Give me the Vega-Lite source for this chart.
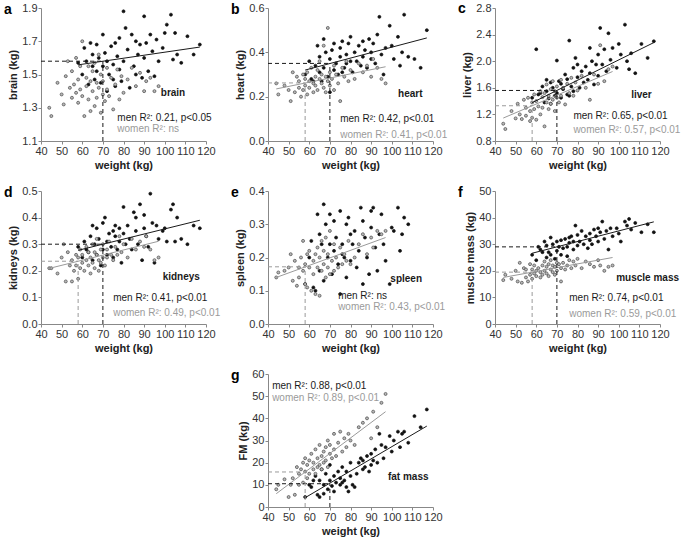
{
  "$schema": "https://vega.github.io/schema/vega-lite/v6.json",
  "padding": {"left": 3, "top": 2, "right": 2, "bottom": 1},
  "background": "white",
  "config": {
    "font": "Liberation Sans",
    "view": {"stroke": null},
    "axis": {
      "grid": false,
      "domainColor": "#888888",
      "tickColor": "#888888",
      "tickSize": 3,
      "labelColor": "#333333",
      "labelFontSize": 11,
      "labelFlush": false,
      "labelOverlap": false,
      "labelPadding": 1,
      "titleFontSize": 11,
      "titleFontWeight": "bold",
      "titleColor": "#222222",
      "titlePadding": 3
    }
  },
  "datasets": {
    "people": [
      {"sex":"M","w":58,"brain":1.57,"heart":0.30,"liver":1.45,"kidneys":0.29,"spleen":0.12,"muscle":26,"fm":4.5},
      {"sex":"M","w":60,"brain":1.50,"heart":0.36,"liver":2.18,"kidneys":0.25,"spleen":0.20,"muscle":24,"fm":10},
      {"sex":"M","w":61,"brain":1.66,"heart":0.28,"liver":1.50,"kidneys":0.31,"spleen":0.25,"muscle":29,"fm":9},
      {"sex":"M","w":63,"brain":1.44,"heart":0.34,"liver":1.62,"kidneys":0.27,"spleen":0.10,"muscle":27,"fm":14},
      {"sex":"M","w":64,"brain":1.69,"heart":0.43,"liver":1.38,"kidneys":0.33,"spleen":0.33,"muscle":31,"fm":5.5},
      {"sex":"M","w":65,"brain":1.55,"heart":0.31,"liver":1.55,"kidneys":0.37,"spleen":0.27,"muscle":25,"fm":12},
      {"sex":"M","w":65,"brain":1.62,"heart":0.38,"liver":1.72,"kidneys":0.24,"spleen":0.16,"muscle":29.5,"fm":4.5},
      {"sex":"M","w":66,"brain":1.47,"heart":0.27,"liver":1.44,"kidneys":0.30,"spleen":0.24,"muscle":27,"fm":17},
      {"sex":"M","w":67,"brain":1.68,"heart":0.46,"liver":1.68,"kidneys":0.36,"spleen":0.36,"muscle":32.5,"fm":10},
      {"sex":"M","w":67,"brain":1.52,"heart":0.33,"liver":1.36,"kidneys":0.26,"spleen":0.13,"muscle":26,"fm":6},
      {"sex":"M","w":68,"brain":1.60,"heart":0.40,"liver":1.60,"kidneys":0.32,"spleen":0.30,"muscle":30,"fm":15},
      {"sex":"M","w":69,"brain":1.45,"heart":0.29,"liver":1.48,"kidneys":0.22,"spleen":0.20,"muscle":24.5,"fm":8},
      {"sex":"M","w":70,"brain":1.74,"heart":0.37,"liver":2.01,"kidneys":0.38,"spleen":0.24,"muscle":31,"fm":12},
      {"sex":"M","w":70,"brain":1.55,"heart":0.22,"liver":1.52,"kidneys":0.28,"spleen":0.33,"muscle":27.5,"fm":19},
      {"sex":"M","w":71,"brain":1.63,"heart":0.41,"liver":1.70,"kidneys":0.40,"spleen":0.15,"muscle":29,"fm":9.5},
      {"sex":"M","w":72,"brain":1.40,"heart":0.32,"liver":1.45,"kidneys":0.31,"spleen":0.31,"muscle":26,"fm":14},
      {"sex":"M","w":72,"brain":1.58,"heart":0.44,"liver":1.66,"kidneys":0.26,"spleen":0.22,"muscle":31.5,"fm":7},
      {"sex":"M","w":73,"brain":1.50,"heart":0.35,"liver":1.58,"kidneys":0.34,"spleen":0.26,"muscle":28.5,"fm":11},
      {"sex":"M","w":74,"brain":1.67,"heart":0.30,"liver":1.80,"kidneys":0.29,"spleen":0.18,"muscle":32,"fm":16},
      {"sex":"M","w":75,"brain":1.56,"heart":0.42,"liver":1.50,"kidneys":0.35,"spleen":0.34,"muscle":29,"fm":10},
      {"sex":"M","w":75,"brain":1.47,"heart":0.38,"liver":1.73,"kidneys":0.25,"spleen":0.09,"muscle":25.5,"fm":13},
      {"sex":"M","w":76,"brain":1.69,"heart":0.45,"liver":2.31,"kidneys":0.33,"spleen":0.24,"muscle":30.5,"fm":18},
      {"sex":"M","w":77,"brain":1.61,"heart":0.33,"liver":1.62,"kidneys":0.28,"spleen":0.20,"muscle":33,"fm":12},
      {"sex":"M","w":78,"brain":1.53,"heart":0.39,"liver":1.90,"kidneys":0.36,"spleen":0.30,"muscle":28,"fm":9},
      {"sex":"M","w":78,"brain":1.72,"heart":0.35,"liver":1.55,"kidneys":0.31,"spleen":0.14,"muscle":31,"fm":16},
      {"sex":"M","w":79,"brain":1.46,"heart":0.44,"liver":2.05,"kidneys":0.23,"spleen":0.32,"muscle":37,"fm":7},
      {"sex":"M","w":80,"brain":1.88,"heart":0.47,"liver":1.76,"kidneys":0.44,"spleen":0.27,"muscle":29.5,"fm":20},
      {"sex":"M","w":80,"brain":1.58,"heart":0.36,"liver":1.95,"kidneys":0.34,"spleen":0.19,"muscle":33.5,"fm":14},
      {"sex":"M","w":81,"brain":1.78,"heart":0.31,"liver":1.60,"kidneys":0.30,"spleen":0.24,"muscle":31,"fm":10},
      {"sex":"M","w":82,"brain":1.65,"heart":0.40,"liver":1.85,"kidneys":0.37,"spleen":0.28,"muscle":35,"fm":9},
      {"sex":"M","w":83,"brain":1.42,"heart":0.36,"liver":1.68,"kidneys":0.32,"spleen":0.17,"muscle":30,"fm":15},
      {"sex":"M","w":84,"brain":1.74,"heart":0.43,"liver":1.92,"kidneys":0.28,"spleen":0.22,"muscle":33,"fm":20},
      {"sex":"M","w":85,"brain":1.55,"heart":0.34,"liver":1.72,"kidneys":0.42,"spleen":0.35,"muscle":28.5,"fm":22},
      {"sex":"M","w":86,"brain":1.70,"heart":0.45,"liver":2.20,"kidneys":0.35,"spleen":0.31,"muscle":34,"fm":17},
      {"sex":"M","w":86,"brain":1.50,"heart":0.38,"liver":1.82,"kidneys":0.40,"spleen":0.12,"muscle":31.5,"fm":21},
      {"sex":"M","w":87,"brain":1.62,"heart":0.41,"liver":2.00,"kidneys":0.30,"spleen":0.26,"muscle":30,"fm":18},
      {"sex":"M","w":88,"brain":1.68,"heart":0.33,"liver":1.65,"kidneys":0.45,"spleen":0.20,"muscle":35.5,"fm":23},
      {"sex":"M","w":89,"brain":1.48,"heart":0.46,"liver":1.95,"kidneys":0.24,"spleen":0.15,"muscle":33,"fm":16},
      {"sex":"M","w":90,"brain":1.85,"heart":0.40,"liver":2.10,"kidneys":0.41,"spleen":0.34,"muscle":36,"fm":24},
      {"sex":"M","w":90,"brain":1.60,"heart":0.37,"liver":1.78,"kidneys":0.36,"spleen":0.29,"muscle":31,"fm":19},
      {"sex":"M","w":91,"brain":1.69,"heart":0.44,"liver":2.50,"kidneys":0.33,"spleen":0.35,"muscle":34.5,"fm":21},
      {"sex":"M","w":92,"brain":1.52,"heart":0.35,"liver":1.95,"kidneys":0.29,"spleen":0.23,"muscle":38.5,"fm":26},
      {"sex":"M","w":93,"brain":1.74,"heart":0.48,"liver":2.18,"kidneys":0.49,"spleen":0.16,"muscle":32,"fm":20},
      {"sex":"M","w":94,"brain":1.64,"heart":0.56,"liver":1.85,"kidneys":0.38,"spleen":0.27,"muscle":35,"fm":33},
      {"sex":"M","w":95,"brain":1.49,"heart":0.39,"liver":2.42,"kidneys":0.23,"spleen":0.33,"muscle":28,"fm":28},
      {"sex":"M","w":96,"brain":1.71,"heart":0.30,"liver":2.02,"kidneys":0.37,"spleen":0.24,"muscle":36,"fm":22},
      {"sex":"M","w":97,"brain":1.58,"heart":0.42,"liver":2.20,"kidneys":0.32,"spleen":0.19,"muscle":33,"fm":27},
      {"sex":"M","w":99,"brain":1.66,"heart":0.52,"liver":1.90,"kidneys":0.35,"spleen":0.12,"muscle":36,"fm":32},
      {"sex":"M","w":100,"brain":1.75,"heart":0.43,"liver":2.26,"kidneys":0.36,"spleen":0.29,"muscle":34,"fm":25},
      {"sex":"M","w":101,"brain":1.80,"heart":0.37,"liver":2.10,"kidneys":0.31,"spleen":0.28,"muscle":31,"fm":30},
      {"sex":"M","w":103,"brain":1.86,"heart":0.47,"liver":2.55,"kidneys":0.43,"spleen":0.35,"muscle":38.5,"fm":34},
      {"sex":"M","w":104,"brain":1.59,"heart":0.34,"liver":2.00,"kidneys":0.45,"spleen":0.22,"muscle":37,"fm":27},
      {"sex":"M","w":105,"brain":1.75,"heart":0.40,"liver":1.88,"kidneys":0.31,"spleen":0.27,"muscle":39.5,"fm":33},
      {"sex":"M","w":106,"brain":1.62,"heart":0.57,"liver":2.12,"kidneys":0.40,"spleen":0.32,"muscle":35.5,"fm":34},
      {"sex":"M","w":108,"brain":1.57,"heart":0.38,"liver":1.82,"kidneys":0.32,"spleen":0.30,"muscle":38,"fm":29},
      {"sex":"M","w":111,"brain":1.73,"heart":0.37,"liver":2.26,"kidneys":0.30,"spleen":null,"muscle":34.5,"fm":41},
      {"sex":"M","w":114,"brain":1.62,"heart":0.33,"liver":2.05,"kidneys":0.37,"spleen":null,"muscle":37.5,"fm":36},
      {"sex":"M","w":117,"brain":1.68,"heart":0.50,"liver":2.30,"kidneys":0.36,"spleen":null,"muscle":34.5,"fm":44},
      {"sex":"M","w":62,"brain":1.58,"heart":0.27,"liver":1.52,"kidneys":0.28,"spleen":0.11,"muscle":28,"fm":12},
      {"sex":"M","w":76,"brain":1.43,"heart":0.31,"liver":1.48,"kidneys":0.37,"spleen":0.21,"muscle":32.5,"fm":11},
      {"sex":"W","w":44,"brain":1.30,"heart":0.26,"liver":1.06,"kidneys":0.21,"spleen":0.14,"muscle":16.5,"fm":8},
      {"sex":"W","w":45,"brain":1.25,"heart":0.21,"liver":0.98,"kidneys":0.21,"spleen":0.155,"muscle":18.5,"fm":10},
      {"sex":"W","w":48,"brain":1.45,"heart":0.25,"liver":1.25,"kidneys":0.19,"spleen":0.16,"muscle":17,"fm":12.5},
      {"sex":"W","w":50,"brain":1.38,"heart":0.23,"liver":1.14,"kidneys":0.25,"spleen":0.17,"muscle":20,"fm":4.5},
      {"sex":"W","w":51,"brain":1.32,"heart":0.18,"liver":1.36,"kidneys":0.30,"spleen":0.21,"muscle":16,"fm":10},
      {"sex":"W","w":52,"brain":1.49,"heart":0.31,"liver":1.20,"kidneys":0.16,"spleen":0.13,"muscle":23,"fm":13},
      {"sex":"W","w":53,"brain":1.58,"heart":0.22,"liver":1.13,"kidneys":0.27,"spleen":0.19,"muscle":15.5,"fm":5.5},
      {"sex":"W","w":54,"brain":1.42,"heart":0.29,"liver":1.42,"kidneys":0.22,"spleen":0.115,"muscle":21,"fm":18},
      {"sex":"W","w":55,"brain":1.36,"heart":0.24,"liver":1.30,"kidneys":0.16,"spleen":0.17,"muscle":17.5,"fm":15},
      {"sex":"W","w":55,"brain":1.52,"heart":0.27,"liver":1.18,"kidneys":0.24,"spleen":0.14,"muscle":20.5,"fm":10},
      {"sex":"W","w":56,"brain":1.44,"heart":0.20,"liver":1.45,"kidneys":0.20,"spleen":0.20,"muscle":16,"fm":17},
      {"sex":"W","w":57,"brain":1.39,"heart":0.30,"liver":1.25,"kidneys":0.26,"spleen":0.25,"muscle":22.5,"fm":11},
      {"sex":"W","w":57,"brain":1.60,"heart":0.23,"liver":1.10,"kidneys":0.22,"spleen":0.16,"muscle":18.5,"fm":20},
      {"sex":"W","w":58,"brain":1.47,"heart":0.28,"liver":1.38,"kidneys":0.17,"spleen":0.12,"muscle":20.5,"fm":16},
      {"sex":"W","w":58,"brain":1.33,"heart":0.25,"liver":1.15,"kidneys":0.25,"spleen":0.18,"muscle":17,"fm":22},
      {"sex":"W","w":59,"brain":1.55,"heart":0.31,"liver":1.50,"kidneys":0.21,"spleen":0.21,"muscle":19,"fm":13},
      {"sex":"W","w":59,"brain":1.41,"heart":0.21,"liver":1.28,"kidneys":0.28,"spleen":0.11,"muscle":22,"fm":19},
      {"sex":"W","w":60,"brain":1.70,"heart":0.27,"liver":1.40,"kidneys":0.23,"spleen":0.17,"muscle":18,"fm":21},
      {"sex":"W","w":60,"brain":1.37,"heart":0.24,"liver":1.12,"kidneys":0.26,"spleen":0.22,"muscle":20,"fm":15},
      {"sex":"W","w":61,"brain":1.25,"heart":0.33,"liver":1.32,"kidneys":0.20,"spleen":0.10,"muscle":21,"fm":24},
      {"sex":"W","w":62,"brain":1.48,"heart":0.26,"liver":1.55,"kidneys":0.29,"spleen":0.19,"muscle":17.5,"fm":17},
      {"sex":"W","w":62,"brain":1.43,"heart":0.22,"liver":1.20,"kidneys":0.24,"spleen":0.15,"muscle":19.5,"fm":20},
      {"sex":"W","w":63,"brain":1.35,"heart":0.29,"liver":1.46,"kidneys":0.22,"spleen":0.21,"muscle":22,"fm":26},
      {"sex":"W","w":63,"brain":1.55,"heart":0.25,"liver":1.30,"kidneys":0.27,"spleen":0.09,"muscle":18.5,"fm":15},
      {"sex":"W","w":64,"brain":1.28,"heart":0.32,"liver":1.02,"kidneys":0.25,"spleen":0.17,"muscle":20,"fm":22},
      {"sex":"W","w":64,"brain":1.46,"heart":0.23,"liver":1.52,"kidneys":0.19,"spleen":0.23,"muscle":23.5,"fm":18},
      {"sex":"W","w":65,"brain":1.52,"heart":0.28,"liver":1.38,"kidneys":0.30,"spleen":0.085,"muscle":19,"fm":28},
      {"sex":"W","w":65,"brain":1.40,"heart":0.36,"liver":1.65,"kidneys":0.23,"spleen":0.20,"muscle":21.5,"fm":19},
      {"sex":"W","w":66,"brain":1.31,"heart":0.26,"liver":1.28,"kidneys":0.27,"spleen":0.16,"muscle":18,"fm":23},
      {"sex":"W","w":66,"brain":1.57,"heart":0.30,"liver":1.48,"kidneys":0.21,"spleen":0.25,"muscle":22.5,"fm":17},
      {"sex":"W","w":67,"brain":1.45,"heart":0.24,"liver":1.58,"kidneys":0.26,"spleen":0.18,"muscle":20.5,"fm":25},
      {"sex":"W","w":67,"brain":1.36,"heart":0.43,"liver":1.36,"kidneys":0.32,"spleen":0.22,"muscle":24,"fm":20},
      {"sex":"W","w":68,"brain":1.62,"heart":0.29,"liver":1.70,"kidneys":0.24,"spleen":0.14,"muscle":19.5,"fm":27},
      {"sex":"W","w":68,"brain":1.42,"heart":0.22,"liver":1.42,"kidneys":0.20,"spleen":0.26,"muscle":22,"fm":21},
      {"sex":"W","w":69,"brain":1.27,"heart":0.27,"liver":1.25,"kidneys":0.28,"spleen":0.17,"muscle":18.5,"fm":30},
      {"sex":"W","w":69,"brain":1.50,"heart":0.51,"liver":1.55,"kidneys":0.23,"spleen":0.21,"muscle":21.5,"fm":18},
      {"sex":"W","w":70,"brain":1.38,"heart":0.31,"liver":1.45,"kidneys":0.25,"spleen":0.15,"muscle":20,"fm":24},
      {"sex":"W","w":70,"brain":1.46,"heart":0.25,"liver":1.62,"kidneys":0.30,"spleen":0.28,"muscle":23,"fm":28},
      {"sex":"W","w":71,"brain":1.34,"heart":0.28,"liver":1.38,"kidneys":0.22,"spleen":0.19,"muscle":22.5,"fm":22},
      {"sex":"W","w":72,"brain":1.54,"heart":0.34,"liver":1.72,"kidneys":0.28,"spleen":0.24,"muscle":16,"fm":33},
      {"sex":"W","w":72,"brain":1.41,"heart":0.23,"liver":1.48,"kidneys":0.25,"spleen":0.16,"muscle":21,"fm":26},
      {"sex":"W","w":73,"brain":1.37,"heart":0.30,"liver":1.60,"kidneys":0.31,"spleen":0.20,"muscle":23,"fm":23},
      {"sex":"W","w":74,"brain":1.48,"heart":0.26,"liver":1.35,"kidneys":0.26,"spleen":0.17,"muscle":20.5,"fm":29},
      {"sex":"W","w":75,"brain":1.29,"heart":0.18,"liver":1.66,"kidneys":0.24,"spleen":0.23,"muscle":22,"fm":34},
      {"sex":"W","w":76,"brain":1.44,"heart":0.33,"liver":1.52,"kidneys":0.29,"spleen":0.18,"muscle":24,"fm":25},
      {"sex":"W","w":77,"brain":1.53,"heart":0.29,"liver":1.75,"kidneys":0.26,"spleen":0.21,"muscle":21,"fm":31},
      {"sex":"W","w":78,"brain":1.35,"heart":0.36,"liver":1.48,"kidneys":0.33,"spleen":0.19,"muscle":23.5,"fm":27},
      {"sex":"W","w":79,"brain":1.49,"heart":0.27,"liver":1.68,"kidneys":0.27,"spleen":0.25,"muscle":22,"fm":33},
      {"sex":"W","w":80,"brain":1.39,"heart":0.32,"liver":1.56,"kidneys":0.30,"spleen":0.18,"muscle":24.5,"fm":30},
      {"sex":"W","w":82,"brain":1.47,"heart":0.28,"liver":1.78,"kidneys":0.25,"spleen":0.20,"muscle":21,"fm":28},
      {"sex":"W","w":84,"brain":1.54,"heart":0.35,"liver":1.60,"kidneys":0.32,"spleen":0.24,"muscle":23.5,"fm":36},
      {"sex":"W","w":86,"brain":1.43,"heart":0.31,"liver":1.42,"kidneys":0.28,"spleen":0.27,"muscle":22.5,"fm":38},
      {"sex":"W","w":88,"brain":1.51,"heart":0.34,"liver":1.80,"kidneys":0.31,"spleen":0.21,"muscle":21.5,"fm":40},
      {"sex":"W","w":90,"brain":1.40,"heart":0.29,"liver":1.66,"kidneys":0.29,"spleen":0.26,"muscle":24,"fm":31},
      {"sex":"W","w":91,"brain":1.46,"heart":0.37,"liver":2.24,"kidneys":0.33,"spleen":0.23,"muscle":22,"fm":43},
      {"sex":"W","w":93,"brain":1.48,"heart":0.33,"liver":1.70,"kidneys":0.28,"spleen":0.28,"muscle":20,"fm":36},
      {"sex":"W","w":95,"brain":1.40,"heart":0.28,"liver":1.88,"kidneys":0.24,"spleen":0.27,"muscle":21.5,"fm":47},
      {"sex":"W","w":97,"brain":1.43,"heart":0.26,"liver":1.92,"kidneys":0.25,"spleen":0.28,"muscle":22,"fm":51}
    ],
    "fits": [
      {"panel":"a","kind":"men","w":58,"v":1.558},{"panel":"a","kind":"men","w":117,"v":1.665},
      {"panel":"b","kind":"men","w":58,"v":0.32},{"panel":"b","kind":"men","w":117,"v":0.465},
      {"panel":"b","kind":"women","w":44,"v":0.235},{"panel":"b","kind":"women","w":97,"v":0.335},
      {"panel":"c","kind":"men","w":58,"v":1.376},{"panel":"c","kind":"men","w":117,"v":2.28},
      {"panel":"c","kind":"women","w":44,"v":1.145},{"panel":"c","kind":"women","w":97,"v":1.845},
      {"panel":"d","kind":"men","w":58,"v":0.277},{"panel":"d","kind":"men","w":117,"v":0.39},
      {"panel":"d","kind":"women","w":44,"v":0.209},{"panel":"d","kind":"women","w":97,"v":0.311},
      {"panel":"e","kind":"women","w":44,"v":0.14},{"panel":"e","kind":"women","w":97,"v":0.26},
      {"panel":"f","kind":"men","w":58,"v":26.6},{"panel":"f","kind":"men","w":117,"v":38.4},
      {"panel":"f","kind":"women","w":44,"v":17.5},{"panel":"f","kind":"women","w":97,"v":25},
      {"panel":"g","kind":"men","w":58,"v":4.2},{"panel":"g","kind":"men","w":117,"v":36.5},
      {"panel":"g","kind":"women","w":44,"v":6},{"panel":"g","kind":"women","w":97,"v":43}
    ],
    "refs": [
      {"panel":"a","kind":"men","w":40,"v":1.58,"w2":70,"v2":1.58},{"panel":"a","kind":"men","w":70,"v":1.1,"w2":70,"v2":1.58},
      {"panel":"b","kind":"men","w":40,"v":0.35,"w2":70,"v2":0.35},{"panel":"b","kind":"men","w":70,"v":0,"w2":70,"v2":0.35},
      {"panel":"b","kind":"women","w":40,"v":0.262,"w2":58,"v2":0.262},{"panel":"b","kind":"women","w":58,"v":0,"w2":58,"v2":0.262},
      {"panel":"c","kind":"men","w":40,"v":1.56,"w2":70,"v2":1.56},{"panel":"c","kind":"men","w":70,"v":0.8,"w2":70,"v2":1.56},
      {"panel":"c","kind":"women","w":40,"v":1.33,"w2":58,"v2":1.33},{"panel":"c","kind":"women","w":58,"v":0.8,"w2":58,"v2":1.33},
      {"panel":"d","kind":"men","w":40,"v":0.30,"w2":70,"v2":0.30},{"panel":"d","kind":"men","w":70,"v":0,"w2":70,"v2":0.30},
      {"panel":"d","kind":"women","w":40,"v":0.236,"w2":58,"v2":0.236},{"panel":"d","kind":"women","w":58,"v":0,"w2":58,"v2":0.236},
      {"panel":"e","kind":"women","w":40,"v":0.172,"w2":58,"v2":0.172},{"panel":"e","kind":"women","w":58,"v":0,"w2":58,"v2":0.172},
      {"panel":"f","kind":"men","w":40,"v":29,"w2":70,"v2":29},{"panel":"f","kind":"men","w":70,"v":0,"w2":70,"v2":29},
      {"panel":"f","kind":"women","w":40,"v":19.5,"w2":58,"v2":19.5},{"panel":"f","kind":"women","w":58,"v":0,"w2":58,"v2":19.5},
      {"panel":"g","kind":"men","w":40,"v":10.5,"w2":70,"v2":10.5},{"panel":"g","kind":"men","w":70,"v":0,"w2":70,"v2":10.5},
      {"panel":"g","kind":"women","w":40,"v":15.8,"w2":58,"v2":15.8},{"panel":"g","kind":"women","w":58,"v":0,"w2":58,"v2":15.8}
    ],
    "notes": [
      {"panel":"a","kind":"letter","w":22,"v":1.885,"label":"a"},
      {"panel":"a","kind":"organ","w":104,"v":1.39,"label":"brain"},
      {"panel":"a","kind":"men","w":77,"v":1.24,"label":"men R²: 0.21, p<0.05"},
      {"panel":"a","kind":"women","w":77,"v":1.17,"label":"women R²: ns"},
      {"panel":"b","kind":"letter","w":22,"v":0.592,"label":"b"},
      {"panel":"b","kind":"organ","w":109,"v":0.21,"label":"heart"},
      {"panel":"b","kind":"men","w":75,"v":0.10,"label":"men R²: 0.42, p<0.01"},
      {"panel":"b","kind":"women","w":75,"v":0.025,"label":"women R²: 0.41, p<0.01"},
      {"panel":"c","kind":"letter","w":22,"v":2.78,"label":"c"},
      {"panel":"c","kind":"organ","w":111,"v":1.49,"label":"liver"},
      {"panel":"c","kind":"men","w":78,"v":1.18,"label":"men R²: 0.65, p<0.01"},
      {"panel":"c","kind":"women","w":78,"v":0.96,"label":"women R²: 0.57, p<0.01"},
      {"panel":"d","kind":"letter","w":22,"v":0.493,"label":"d"},
      {"panel":"d","kind":"organ","w":108,"v":0.175,"label":"kidneys"},
      {"panel":"d","kind":"men","w":75,"v":0.097,"label":"men R²: 0.41, p<0.01"},
      {"panel":"d","kind":"women","w":75,"v":0.04,"label":"women R²: 0.49, p<0.01"},
      {"panel":"e","kind":"letter","w":22,"v":0.394,"label":"e"},
      {"panel":"e","kind":"organ","w":107,"v":0.136,"label":"spleen"},
      {"panel":"e","kind":"men","w":74,"v":0.084,"label":"men R²: ns"},
      {"panel":"e","kind":"women","w":74,"v":0.051,"label":"women R²: 0.43, p<0.01"},
      {"panel":"f","kind":"letter","w":22,"v":49.3,"label":"f"},
      {"panel":"f","kind":"organ","w":114,"v":17.3,"label":"muscle mass"},
      {"panel":"f","kind":"men","w":76,"v":9.8,"label":"men R²: 0.74, p<0.01"},
      {"panel":"f","kind":"women","w":76,"v":3.8,"label":"women R²: 0.59, p<0.01"},
      {"panel":"g","kind":"letter","w":22,"v":59.2,"label":"g"},
      {"panel":"g","kind":"organ","w":108,"v":13.5,"label":"fat mass"},
      {"panel":"g","kind":"men","w":42,"v":54.4,"label":"men R²: 0.88, p<0.01"},
      {"panel":"g","kind":"women","w":42,"v":49.2,"label":"women R²: 0.89, p<0.01"}
    ]
  },
  "columns": 3,
  "spacing": {"row": 50, "column": 62},
  "bounds": "flush",
  "concat": [
    {
      "width": 165, "height": 133,
      "encoding": {
        "x": {"field": "w", "type": "quantitative", "scale": {"domain": [40, 120], "nice": false, "zero": false}, "axis": {"values": [40,50,60,70,80,90,100,110,120], "title": "weight (kg)"}},
        "y": {"field": "v", "type": "quantitative", "scale": {"domain": [1.1, 1.9], "nice": false, "zero": false}, "axis": {"values": [1.1,1.3,1.5,1.7,1.9], "format": ".1f", "title": "brain (kg)"}}
      },
      "layer": [
        {"data": {"name": "people"}, "transform": [{"fold": ["brain","heart","liver","kidneys","spleen","muscle","fm"], "as": ["organ","v"]}, {"filter": "datum.organ == 'brain' && datum.v != null"}],
         "mark": {"type": "circle", "size": 9, "strokeWidth": 0.7, "opacity": 1},
         "encoding": {"fill": {"field": "sex", "type": "nominal", "scale": {"domain": ["M","W"], "range": ["#111111","#b8b8b8"]}, "legend": null},
                      "stroke": {"field": "sex", "type": "nominal", "scale": {"domain": ["M","W"], "range": ["#111111","#4a4a4a"]}, "legend": null}}},
        {"data": {"name": "fits"}, "transform": [{"filter": "datum.panel == 'a'"}], "mark": {"type": "line", "strokeWidth": 1},
         "encoding": {"color": {"field": "kind", "type": "nominal", "scale": {"domain": ["men","women","organ","letter"], "range": ["#1a1a1a","#9a9a9a","#1a1a1a","#000000"]}, "legend": null}}},
        {"data": {"name": "refs"}, "transform": [{"filter": "datum.panel == 'a'"}], "mark": {"type": "rule", "strokeDash": [4,3], "strokeWidth": 1},
         "encoding": {"x2": {"field": "w2"}, "y2": {"field": "v2"}, "color": {"field": "kind", "type": "nominal", "legend": null}}},
        {"data": {"name": "notes"}, "transform": [{"filter": "datum.panel == 'a' && (datum.kind == 'men' || datum.kind == 'women')"}], "mark": {"type": "text", "align": "left", "baseline": "middle", "fontSize": 10},
         "encoding": {"text": {"field": "label"}, "color": {"field": "kind", "type": "nominal", "legend": null}}},
        {"data": {"name": "notes"}, "transform": [{"filter": "datum.panel == 'a' && datum.kind == 'organ'"}], "mark": {"type": "text", "align": "center", "baseline": "middle", "fontSize": 10, "fontWeight": "bold"},
         "encoding": {"text": {"field": "label"}, "color": {"field": "kind", "type": "nominal", "legend": null}}},
        {"data": {"name": "notes"}, "transform": [{"filter": "datum.panel == 'a' && datum.kind == 'letter'"}], "mark": {"type": "text", "align": "left", "baseline": "middle", "fontSize": 14, "fontWeight": "bold"},
         "encoding": {"text": {"field": "label"}, "color": {"field": "kind", "type": "nominal", "legend": null}}}
      ]
    },
    {
      "width": 165, "height": 133,
      "encoding": {
        "x": {"field": "w", "type": "quantitative", "scale": {"domain": [40, 120], "nice": false, "zero": false}, "axis": {"values": [40,50,60,70,80,90,100,110,120], "title": "weight (kg)"}},
        "y": {"field": "v", "type": "quantitative", "scale": {"domain": [0, 0.6], "nice": false, "zero": false}, "axis": {"values": [0,0.2,0.4,0.6], "format": ".1f", "title": "heart (kg)"}}
      },
      "layer": [
        {"data": {"name": "people"}, "transform": [{"fold": ["brain","heart","liver","kidneys","spleen","muscle","fm"], "as": ["organ","v"]}, {"filter": "datum.organ == 'heart' && datum.v != null"}],
         "mark": {"type": "circle", "size": 9, "strokeWidth": 0.7, "opacity": 1},
         "encoding": {"fill": {"field": "sex", "type": "nominal", "legend": null}, "stroke": {"field": "sex", "type": "nominal", "legend": null}}},
        {"data": {"name": "fits"}, "transform": [{"filter": "datum.panel == 'b'"}], "mark": {"type": "line", "strokeWidth": 1},
         "encoding": {"color": {"field": "kind", "type": "nominal", "legend": null}}},
        {"data": {"name": "refs"}, "transform": [{"filter": "datum.panel == 'b'"}], "mark": {"type": "rule", "strokeDash": [4,3], "strokeWidth": 1},
         "encoding": {"x2": {"field": "w2"}, "y2": {"field": "v2"}, "color": {"field": "kind", "type": "nominal", "legend": null}}},
        {"data": {"name": "notes"}, "transform": [{"filter": "datum.panel == 'b' && (datum.kind == 'men' || datum.kind == 'women')"}], "mark": {"type": "text", "align": "left", "baseline": "middle", "fontSize": 10},
         "encoding": {"text": {"field": "label"}, "color": {"field": "kind", "type": "nominal", "legend": null}}},
        {"data": {"name": "notes"}, "transform": [{"filter": "datum.panel == 'b' && datum.kind == 'organ'"}], "mark": {"type": "text", "align": "center", "baseline": "middle", "fontSize": 10, "fontWeight": "bold"},
         "encoding": {"text": {"field": "label"}, "color": {"field": "kind", "type": "nominal", "legend": null}}},
        {"data": {"name": "notes"}, "transform": [{"filter": "datum.panel == 'b' && datum.kind == 'letter'"}], "mark": {"type": "text", "align": "left", "baseline": "middle", "fontSize": 14, "fontWeight": "bold"},
         "encoding": {"text": {"field": "label"}, "color": {"field": "kind", "type": "nominal", "legend": null}}}
      ]
    },
    {
      "width": 165, "height": 133,
      "encoding": {
        "x": {"field": "w", "type": "quantitative", "scale": {"domain": [40, 120], "nice": false, "zero": false}, "axis": {"values": [40,50,60,70,80,90,100,110,120], "title": "weight (kg)"}},
        "y": {"field": "v", "type": "quantitative", "scale": {"domain": [0.8, 2.8], "nice": false, "zero": false}, "axis": {"values": [0.8,1.2,1.6,2.0,2.4,2.8], "format": ".1f", "title": "liver (kg)"}}
      },
      "layer": [
        {"data": {"name": "people"}, "transform": [{"fold": ["brain","heart","liver","kidneys","spleen","muscle","fm"], "as": ["organ","v"]}, {"filter": "datum.organ == 'liver' && datum.v != null"}],
         "mark": {"type": "circle", "size": 9, "strokeWidth": 0.7, "opacity": 1},
         "encoding": {"fill": {"field": "sex", "type": "nominal", "legend": null}, "stroke": {"field": "sex", "type": "nominal", "legend": null}}},
        {"data": {"name": "fits"}, "transform": [{"filter": "datum.panel == 'c'"}], "mark": {"type": "line", "strokeWidth": 1},
         "encoding": {"color": {"field": "kind", "type": "nominal", "legend": null}}},
        {"data": {"name": "refs"}, "transform": [{"filter": "datum.panel == 'c'"}], "mark": {"type": "rule", "strokeDash": [4,3], "strokeWidth": 1},
         "encoding": {"x2": {"field": "w2"}, "y2": {"field": "v2"}, "color": {"field": "kind", "type": "nominal", "legend": null}}},
        {"data": {"name": "notes"}, "transform": [{"filter": "datum.panel == 'c' && (datum.kind == 'men' || datum.kind == 'women')"}], "mark": {"type": "text", "align": "left", "baseline": "middle", "fontSize": 10},
         "encoding": {"text": {"field": "label"}, "color": {"field": "kind", "type": "nominal", "legend": null}}},
        {"data": {"name": "notes"}, "transform": [{"filter": "datum.panel == 'c' && datum.kind == 'organ'"}], "mark": {"type": "text", "align": "center", "baseline": "middle", "fontSize": 10, "fontWeight": "bold"},
         "encoding": {"text": {"field": "label"}, "color": {"field": "kind", "type": "nominal", "legend": null}}},
        {"data": {"name": "notes"}, "transform": [{"filter": "datum.panel == 'c' && datum.kind == 'letter'"}], "mark": {"type": "text", "align": "left", "baseline": "middle", "fontSize": 14, "fontWeight": "bold"},
         "encoding": {"text": {"field": "label"}, "color": {"field": "kind", "type": "nominal", "legend": null}}}
      ]
    },
    {
      "width": 165, "height": 133,
      "encoding": {
        "x": {"field": "w", "type": "quantitative", "scale": {"domain": [40, 120], "nice": false, "zero": false}, "axis": {"values": [40,50,60,70,80,90,100,110,120], "title": "weight (kg)"}},
        "y": {"field": "v", "type": "quantitative", "scale": {"domain": [0, 0.5], "nice": false, "zero": false}, "axis": {"values": [0,0.1,0.2,0.3,0.4,0.5], "format": ".1f", "title": "kidneys (kg)"}}
      },
      "layer": [
        {"data": {"name": "people"}, "transform": [{"fold": ["brain","heart","liver","kidneys","spleen","muscle","fm"], "as": ["organ","v"]}, {"filter": "datum.organ == 'kidneys' && datum.v != null"}],
         "mark": {"type": "circle", "size": 9, "strokeWidth": 0.7, "opacity": 1},
         "encoding": {"fill": {"field": "sex", "type": "nominal", "legend": null}, "stroke": {"field": "sex", "type": "nominal", "legend": null}}},
        {"data": {"name": "fits"}, "transform": [{"filter": "datum.panel == 'd'"}], "mark": {"type": "line", "strokeWidth": 1},
         "encoding": {"color": {"field": "kind", "type": "nominal", "legend": null}}},
        {"data": {"name": "refs"}, "transform": [{"filter": "datum.panel == 'd'"}], "mark": {"type": "rule", "strokeDash": [4,3], "strokeWidth": 1},
         "encoding": {"x2": {"field": "w2"}, "y2": {"field": "v2"}, "color": {"field": "kind", "type": "nominal", "legend": null}}},
        {"data": {"name": "notes"}, "transform": [{"filter": "datum.panel == 'd' && (datum.kind == 'men' || datum.kind == 'women')"}], "mark": {"type": "text", "align": "left", "baseline": "middle", "fontSize": 10},
         "encoding": {"text": {"field": "label"}, "color": {"field": "kind", "type": "nominal", "legend": null}}},
        {"data": {"name": "notes"}, "transform": [{"filter": "datum.panel == 'd' && datum.kind == 'organ'"}], "mark": {"type": "text", "align": "center", "baseline": "middle", "fontSize": 10, "fontWeight": "bold"},
         "encoding": {"text": {"field": "label"}, "color": {"field": "kind", "type": "nominal", "legend": null}}},
        {"data": {"name": "notes"}, "transform": [{"filter": "datum.panel == 'd' && datum.kind == 'letter'"}], "mark": {"type": "text", "align": "left", "baseline": "middle", "fontSize": 14, "fontWeight": "bold"},
         "encoding": {"text": {"field": "label"}, "color": {"field": "kind", "type": "nominal", "legend": null}}}
      ]
    },
    {
      "width": 165, "height": 133,
      "encoding": {
        "x": {"field": "w", "type": "quantitative", "scale": {"domain": [40, 120], "nice": false, "zero": false}, "axis": {"values": [40,50,60,70,80,90,100,110,120], "title": "weight (kg)"}},
        "y": {"field": "v", "type": "quantitative", "scale": {"domain": [0, 0.4], "nice": false, "zero": false}, "axis": {"values": [0,0.1,0.2,0.3,0.4], "format": ".1f", "title": "spleen (kg)"}}
      },
      "layer": [
        {"data": {"name": "people"}, "transform": [{"fold": ["brain","heart","liver","kidneys","spleen","muscle","fm"], "as": ["organ","v"]}, {"filter": "datum.organ == 'spleen' && datum.v != null"}],
         "mark": {"type": "circle", "size": 9, "strokeWidth": 0.7, "opacity": 1},
         "encoding": {"fill": {"field": "sex", "type": "nominal", "legend": null}, "stroke": {"field": "sex", "type": "nominal", "legend": null}}},
        {"data": {"name": "fits"}, "transform": [{"filter": "datum.panel == 'e'"}], "mark": {"type": "line", "strokeWidth": 1},
         "encoding": {"color": {"field": "kind", "type": "nominal", "legend": null}}},
        {"data": {"name": "refs"}, "transform": [{"filter": "datum.panel == 'e'"}], "mark": {"type": "rule", "strokeDash": [4,3], "strokeWidth": 1},
         "encoding": {"x2": {"field": "w2"}, "y2": {"field": "v2"}, "color": {"field": "kind", "type": "nominal", "legend": null}}},
        {"data": {"name": "notes"}, "transform": [{"filter": "datum.panel == 'e' && (datum.kind == 'men' || datum.kind == 'women')"}], "mark": {"type": "text", "align": "left", "baseline": "middle", "fontSize": 10},
         "encoding": {"text": {"field": "label"}, "color": {"field": "kind", "type": "nominal", "legend": null}}},
        {"data": {"name": "notes"}, "transform": [{"filter": "datum.panel == 'e' && datum.kind == 'organ'"}], "mark": {"type": "text", "align": "center", "baseline": "middle", "fontSize": 10, "fontWeight": "bold"},
         "encoding": {"text": {"field": "label"}, "color": {"field": "kind", "type": "nominal", "legend": null}}},
        {"data": {"name": "notes"}, "transform": [{"filter": "datum.panel == 'e' && datum.kind == 'letter'"}], "mark": {"type": "text", "align": "left", "baseline": "middle", "fontSize": 14, "fontWeight": "bold"},
         "encoding": {"text": {"field": "label"}, "color": {"field": "kind", "type": "nominal", "legend": null}}}
      ]
    },
    {
      "width": 165, "height": 133,
      "encoding": {
        "x": {"field": "w", "type": "quantitative", "scale": {"domain": [40, 120], "nice": false, "zero": false}, "axis": {"values": [40,50,60,70,80,90,100,110,120], "title": "weight (kg)"}},
        "y": {"field": "v", "type": "quantitative", "scale": {"domain": [0, 50], "nice": false, "zero": false}, "axis": {"values": [0,10,20,30,40,50], "format": "d", "title": "muscle mass (kg)"}}
      },
      "layer": [
        {"data": {"name": "people"}, "transform": [{"fold": ["brain","heart","liver","kidneys","spleen","muscle","fm"], "as": ["organ","v"]}, {"filter": "datum.organ == 'muscle' && datum.v != null"}],
         "mark": {"type": "circle", "size": 9, "strokeWidth": 0.7, "opacity": 1},
         "encoding": {"fill": {"field": "sex", "type": "nominal", "legend": null}, "stroke": {"field": "sex", "type": "nominal", "legend": null}}},
        {"data": {"name": "fits"}, "transform": [{"filter": "datum.panel == 'f'"}], "mark": {"type": "line", "strokeWidth": 1},
         "encoding": {"color": {"field": "kind", "type": "nominal", "legend": null}}},
        {"data": {"name": "refs"}, "transform": [{"filter": "datum.panel == 'f'"}], "mark": {"type": "rule", "strokeDash": [4,3], "strokeWidth": 1},
         "encoding": {"x2": {"field": "w2"}, "y2": {"field": "v2"}, "color": {"field": "kind", "type": "nominal", "legend": null}}},
        {"data": {"name": "notes"}, "transform": [{"filter": "datum.panel == 'f' && (datum.kind == 'men' || datum.kind == 'women')"}], "mark": {"type": "text", "align": "left", "baseline": "middle", "fontSize": 10},
         "encoding": {"text": {"field": "label"}, "color": {"field": "kind", "type": "nominal", "legend": null}}},
        {"data": {"name": "notes"}, "transform": [{"filter": "datum.panel == 'f' && datum.kind == 'organ'"}], "mark": {"type": "text", "align": "center", "baseline": "middle", "fontSize": 10, "fontWeight": "bold"},
         "encoding": {"text": {"field": "label"}, "color": {"field": "kind", "type": "nominal", "legend": null}}},
        {"data": {"name": "notes"}, "transform": [{"filter": "datum.panel == 'f' && datum.kind == 'letter'"}], "mark": {"type": "text", "align": "left", "baseline": "middle", "fontSize": 14, "fontWeight": "bold"},
         "encoding": {"text": {"field": "label"}, "color": {"field": "kind", "type": "nominal", "legend": null}}}
      ]
    },
    {
      "width": 165, "height": 133,
      "data": {"values": []},
      "mark": {"type": "point", "opacity": 0},
      "encoding": {}
    },
    {
      "width": 165, "height": 133,
      "encoding": {
        "x": {"field": "w", "type": "quantitative", "scale": {"domain": [40, 120], "nice": false, "zero": false}, "axis": {"values": [40,50,60,70,80,90,100,110,120], "title": "weight (kg)"}},
        "y": {"field": "v", "type": "quantitative", "scale": {"domain": [0, 60], "nice": false, "zero": false}, "axis": {"values": [0,10,20,30,40,50,60], "format": "d", "title": "FM (kg)"}}
      },
      "layer": [
        {"data": {"name": "people"}, "transform": [{"fold": ["brain","heart","liver","kidneys","spleen","muscle","fm"], "as": ["organ","v"]}, {"filter": "datum.organ == 'fm' && datum.v != null"}],
         "mark": {"type": "circle", "size": 9, "strokeWidth": 0.7, "opacity": 1},
         "encoding": {"fill": {"field": "sex", "type": "nominal", "legend": null}, "stroke": {"field": "sex", "type": "nominal", "legend": null}}},
        {"data": {"name": "fits"}, "transform": [{"filter": "datum.panel == 'g'"}], "mark": {"type": "line", "strokeWidth": 1},
         "encoding": {"color": {"field": "kind", "type": "nominal", "legend": null}}},
        {"data": {"name": "refs"}, "transform": [{"filter": "datum.panel == 'g'"}], "mark": {"type": "rule", "strokeDash": [4,3], "strokeWidth": 1},
         "encoding": {"x2": {"field": "w2"}, "y2": {"field": "v2"}, "color": {"field": "kind", "type": "nominal", "legend": null}}},
        {"data": {"name": "notes"}, "transform": [{"filter": "datum.panel == 'g' && (datum.kind == 'men' || datum.kind == 'women')"}], "mark": {"type": "text", "align": "left", "baseline": "middle", "fontSize": 10},
         "encoding": {"text": {"field": "label"}, "color": {"field": "kind", "type": "nominal", "legend": null}}},
        {"data": {"name": "notes"}, "transform": [{"filter": "datum.panel == 'g' && datum.kind == 'organ'"}], "mark": {"type": "text", "align": "center", "baseline": "middle", "fontSize": 10, "fontWeight": "bold"},
         "encoding": {"text": {"field": "label"}, "color": {"field": "kind", "type": "nominal", "legend": null}}},
        {"data": {"name": "notes"}, "transform": [{"filter": "datum.panel == 'g' && datum.kind == 'letter'"}], "mark": {"type": "text", "align": "left", "baseline": "middle", "fontSize": 14, "fontWeight": "bold"},
         "encoding": {"text": {"field": "label"}, "color": {"field": "kind", "type": "nominal", "legend": null}}}
      ]
    }
  ]
}
